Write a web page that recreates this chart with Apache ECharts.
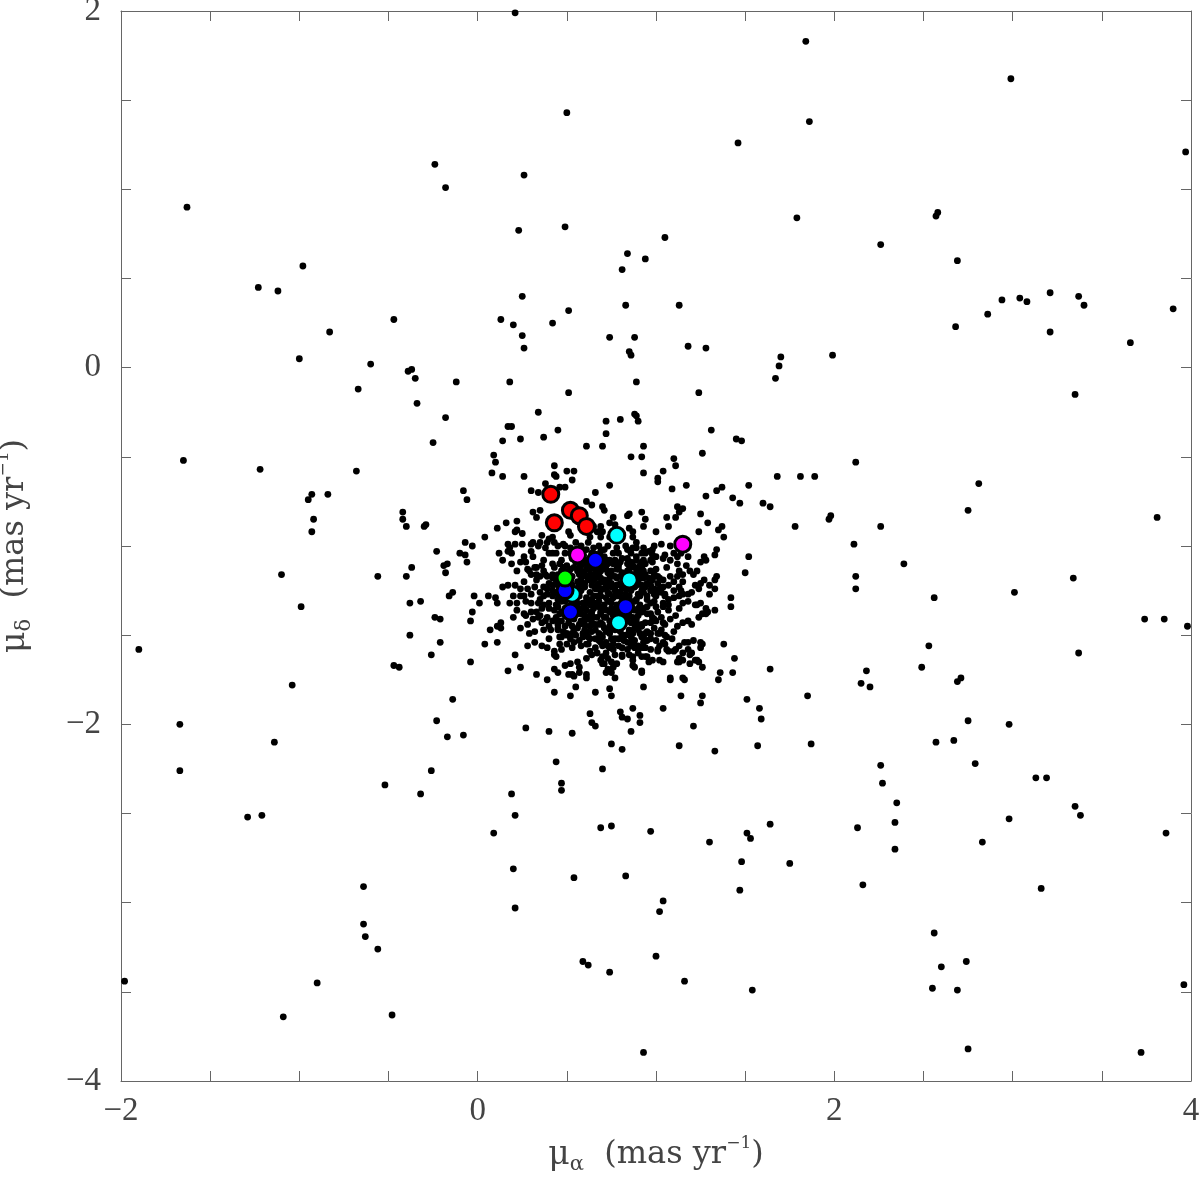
<!DOCTYPE html>
<html>
<head>
<meta charset="utf-8">
<script src="https://cdn.jsdelivr.net/npm/echarts@6/dist/echarts.min.js"></script>
<style>
html,body{margin:0;padding:0;background:#fff;}
#chart{width:1200px;height:1177px;}
</style>
</head>
<body>
<div id="chart"></div>
<script>
// Proper motions [mu_alpha, mu_delta] in mas/yr
const fieldStars = [
[0.21,1.99],[1.84,1.83],[2.99,1.62],[0.50,1.43],[1.86,1.38],[3.97,1.21],[1.46,1.26],[-0.24,1.14],[-0.18,1.01],[0.26,1.08],[-1.63,0.90],[2.58,0.87],[2.57,0.85],[1.79,0.84],[0.49,0.79],[0.23,0.77],[1.05,0.73],[0.84,0.64],[2.26,0.69],[0.94,0.61],[0.81,0.55],[2.69,0.60],[-0.98,0.57],[-1.23,0.45],[-1.12,0.43],[0.25,0.40],[3.37,0.40],[2.94,0.38],[3.04,0.39],[3.08,0.37],[3.40,0.35],[3.90,0.33],[2.86,0.30],[0.83,0.35],[1.13,0.35],[-0.47,0.27],[0.13,0.27],[0.20,0.24],[0.51,0.32],[0.42,0.25],[2.68,0.23],[3.21,0.20],[3.21,0.42],[-0.83,0.20],[0.25,0.18],[0.26,0.11],[0.74,0.17],[0.88,0.17],[1.18,0.12],[1.28,0.11],[1.70,0.06],[1.99,0.07],[3.66,0.14],[0.85,0.09],[0.86,0.07],[-1.00,0.05],[-0.60,0.02],
[-0.39,-0.02],[-0.37,-0.01],[-0.35,-0.06],[-0.67,-0.12],[-0.12,-0.08],[0.18,-0.08],[0.51,-0.14],[1.67,-0.06],[1.69,0.01],[3.35,-0.15],[-0.34,-0.20],[-0.18,-0.28],[0.34,-0.25],[-0.25,-0.42],[2.12,-0.53],[-1.65,-0.52],[-1.22,-0.57],[-0.68,-0.58],
[0.17,-0.33],[0.19,-0.33],[0.14,-0.41],[0.24,-0.40],[0.37,-0.39],[0.45,-0.35],[0.61,-0.44],[0.09,-0.49],[0.10,-0.53],[0.08,-0.59],[0.14,-0.61],[0.26,-0.61],[0.43,-0.55],[0.50,-0.58],[0.54,-0.58],[0.43,-0.60],[0.44,-0.61],[0.53,-0.63],[0.38,-0.65],[0.46,-0.67],[0.49,-0.67],[0.30,-0.69],[0.34,-0.70],[-0.08,-0.69],[-0.06,-0.74],[0.66,-0.70],[0.61,-0.75],[0.64,-0.77],[0.31,-0.81],[0.33,-0.84],[-0.30,-0.89],[-0.29,-0.88],[0.11,-0.90],[0.16,-0.87],[0.22,-0.86],[0.22,-0.91],[0.25,-0.93],[0.36,-0.94],[0.04,-0.95],[-0.07,-0.98],[-0.03,-1.00],[0.21,-0.99],[0.25,-0.99],[0.30,-0.99],[0.35,-0.98],[0.39,-0.98],[0.42,-0.95],[0.48,-0.99],[0.55,-0.98],[0.62,-0.98],[-0.10,-1.04],[-0.07,-1.05],[0.12,-1.04],[0.17,-1.03],[0.42,-1.04],[0.49,-1.04],[0.26,-1.06],
[0.89,-0.08],[1.24,-0.14],[0.88,-0.26],[0.89,-0.27],[0.72,-0.30],[0.80,-0.29],[0.90,-0.30],[1.31,-0.35],[0.72,-0.37],[1.45,-0.40],[1.48,-0.41],[0.70,-0.44],[0.93,-0.44],[1.26,-0.48],[0.86,-0.50],[0.92,-0.50],[1.10,-0.51],[1.11,-0.55],[0.93,-0.59],[1.04,-0.58],[1.01,-0.62],[1.01,-0.64],[1.68,-0.61],[0.74,-0.66],[1.17,-0.66],[1.09,-0.68],[1.37,-0.67],[1.34,-0.69],[1.28,-0.72],[1.43,-0.73],[1.47,-0.76],[1.60,-0.76],[1.64,-0.78],[0.70,-0.78],[0.71,-0.80],[1.12,-0.78],[1.15,-0.79],[1.13,-0.81],[0.85,-0.82],[0.84,-0.83],[0.92,-0.81],[0.94,-0.85],[0.76,-0.84],[1.06,-0.84],[1.11,-0.84],[1.25,-0.82],[1.29,-0.87],[0.93,-0.89],[1.07,-0.89],[1.37,-0.89],[0.74,-0.87],[0.77,-0.88],[0.85,-0.90],[0.87,-0.92],[0.87,-0.95],[1.00,-0.92],[1.24,-0.92],[1.38,-0.95],[0.74,-0.95],[0.70,-0.92],[0.83,-1.00],[0.84,-1.02],[0.89,-1.01],[0.93,-1.01],[0.98,-1.02],[1.03,-0.99],[1.05,-1.05],[1.10,-1.04],[1.34,-1.02],[1.33,-1.05],[1.52,-1.06],[1.18,-1.06],[1.27,-1.06],[0.71,-1.06],[0.76,-1.04],[0.79,-1.04],[0.89,-1.06],[0.92,-1.04],
[0.35,-0.80],[0.21,-0.92],[0.40,-0.96],[0.51,-0.92],[0.52,-0.94],[0.65,-0.89],[0.67,-0.92],[0.69,-0.89],[0.63,-0.95],[0.69,-0.95],[0.17,-0.99],[0.18,-1.01],[0.31,-0.98],[0.34,-1.00],[0.38,-1.01],[0.43,-0.98],[0.49,-1.00],[0.61,-1.02],[0.68,-1.00],[0.71,-1.02],[0.14,-1.08],[0.19,-1.04],[0.24,-1.09],[0.27,-1.09],[0.30,-1.03],[0.31,-1.06],[0.37,-1.08],[0.40,-1.04],[0.42,-1.10],[0.43,-1.12],[0.44,-1.04],[0.59,-1.10],[0.61,-1.13],[0.70,-1.07],[0.72,-1.08],[0.22,-1.14],[0.28,-1.13],[0.29,-1.14],[0.33,-1.12],[0.33,-1.16],[0.37,-1.14],[0.38,-1.16],[0.39,-1.17],[0.42,-1.16],[0.42,-1.18],[0.44,-1.19],[0.40,-1.21],[0.42,-1.22],[0.54,-1.12],[0.56,-1.14],[0.53,-1.17],[0.60,-1.16],[0.62,-1.18],[0.65,-1.19],[0.69,-1.14],[0.72,-1.13],[0.67,-1.22],[0.70,-1.20],[0.72,-1.22],[0.53,-1.22],[0.57,-1.22],[0.17,-1.22],[0.21,-1.22],[0.37,-1.23],
[1.35,-0.91],[0.89,-0.98],[0.87,-1.01],[0.99,-1.00],[0.98,-1.05],[1.00,-1.06],[0.94,-1.04],[1.12,-1.06],[0.77,-1.08],[0.81,-1.07],[0.97,-1.08],[0.98,-1.09],[0.89,-1.08],[0.92,-1.09],[0.94,-1.10],[0.85,-1.13],[0.88,-1.12],[0.90,-1.13],[0.93,-1.14],[0.94,-1.16],[0.96,-1.18],[1.01,-1.17],[1.02,-1.18],[0.76,-1.10],[0.78,-1.13],[0.75,-1.16],[0.78,-1.18],[0.80,-1.21],[0.81,-1.23],[0.92,-1.22],[0.95,-1.21],[1.04,-1.23],[1.07,-1.22],[1.13,-1.14],[1.15,-1.16],[1.19,-1.14],[1.23,-1.14],[1.13,-1.23],[1.15,-1.20],[1.22,-1.22],[1.25,-1.21],[1.30,-1.22],[1.33,-1.19],
[1.50,-1.15],[1.34,-1.17],[1.12,-1.17],[1.33,-1.24],[1.10,-1.25],[1.05,-1.27],[1.18,-1.27],[1.20,-1.26],[1.18,-1.31],[1.25,-1.32],[1.28,-1.35],[1.26,-1.38],[1.29,-1.37],[1.42,-1.29],[1.42,-1.34],[1.23,-1.33],[1.04,-1.32],[1.00,-1.28],[0.99,-1.31],[0.92,-1.25],[1.12,-1.10],[1.28,-1.08],[1.25,-1.09],[0.95,-1.34],[0.97,-1.38],[1.01,-1.37],[1.04,-1.34],[1.18,-1.42],[1.20,-1.44],[0.98,-1.42],[0.89,-1.43],[1.03,-1.47],[1.06,-1.51],[1.01,-1.49],[0.93,-1.51],[0.88,-1.53],[0.90,-1.56],[0.94,-1.57],[0.97,-1.58],[1.01,-1.58],[1.05,-1.55],[1.06,-1.58],[1.11,-1.58],[1.10,-1.59],[1.13,-1.56],[1.15,-1.60],[1.18,-1.54],[1.21,-1.53],[1.25,-1.54],[1.26,-1.55],[1.19,-1.61],[1.23,-1.64],[1.19,-1.66],[1.15,-1.64],[1.13,-1.65],[1.38,-1.55],[1.44,-1.63],[1.43,-1.71],[1.64,-1.69],[1.26,-1.68],[0.98,-1.64],[0.94,-1.62],[0.92,-1.70],[0.87,-1.67],[0.72,-1.71],[0.77,-1.74],[1.08,-1.75],[1.16,-1.75],[1.35,-1.75],[0.93,-1.79],[0.74,-1.80],[0.75,-1.84],[1.14,-1.84],[1.26,-1.84],[1.25,-1.88],[1.04,-1.91],[1.51,-1.86],[1.58,-1.91],[1.59,-1.97],[0.87,-1.91],[0.80,-1.93],[0.81,-1.96],[0.84,-1.97],[0.91,-1.95],[0.91,-1.99],[1.21,-2.01],[0.86,-2.04],[0.79,-1.52],[0.74,-1.57],[0.72,-1.54],[0.70,-1.62],[0.81,-1.61],[0.84,-1.58],[0.87,-1.62],[0.78,-1.66],[0.76,-1.68],[0.71,-1.66],
[0.95,-1.28],[1.01,-1.26],[1.05,-1.28],[1.10,-1.29],[1.15,-1.27],[1.22,-1.33],[1.28,-1.38],[0.75,-1.32],[0.76,-1.36],[0.88,-1.31],[0.91,-1.33],[0.93,-1.35],[0.98,-1.40],[0.99,-1.41],[0.87,-1.40],[0.89,-1.41],[0.87,-1.43],[0.89,-1.45],[1.04,-1.43],[0.95,-1.48],[0.97,-1.49],[1.02,-1.49],[0.75,-1.52],[0.76,-1.55],[0.81,-1.52],[0.84,-1.54],[0.87,-1.54],[0.92,-1.51],[0.93,-1.54],[0.95,-1.53],[0.91,-1.57],[0.88,-1.57],[0.90,-1.60],[1.01,-1.59],[1.04,-1.54],[1.16,-1.54],[1.25,-1.57],[1.07,-1.59],[1.18,-1.58],[1.20,-1.60],[0.76,-1.58],[0.77,-1.61],[0.81,-1.62],[0.85,-1.61],[0.87,-1.64],[0.92,-1.62],[0.95,-1.62],[0.96,-1.65],[1.02,-1.64],[1.04,-1.65],[1.12,-1.65],[1.13,-1.63],[1.22,-1.64],[1.24,-1.65],[0.88,-1.68],[0.92,-1.71],[0.75,-1.65],[0.75,-1.71],[1.36,-1.71],[1.08,-1.74],[1.15,-1.74],
[-0.17,-1.10],[-0.18,-1.15],[-0.06,-1.09],[0.19,-1.10],[0.14,-1.23],[-0.14,-1.26],[-0.16,-1.28],[-0.02,-1.28],[0.01,-1.32],[0.06,-1.28],[0.10,-1.29],[0.11,-1.32],[-0.03,-1.37],[0.22,-1.32],[0.24,-1.28],[0.26,-1.28],[-0.32,-1.31],[-0.24,-1.40],[-0.21,-1.41],[-0.04,-1.42],[0.07,-1.47],[0.11,-1.45],[0.13,-1.43],[0.13,-1.46],[0.24,-1.46],[0.27,-1.39],[0.30,-1.32],[0.34,-1.32],[0.33,-1.37],[0.34,-1.40],[0.38,-1.42],[0.40,-1.45],[0.45,-1.42],[-0.21,-1.54],[-0.26,-1.61],[0.04,-1.55],[0.11,-1.54],[0.28,-1.56],[0.21,-1.61],[-0.04,-1.65],[0.24,-1.68],[0.17,-1.70],[0.33,-1.72],[0.39,-1.57],[0.43,-1.59],[0.43,-1.61],[0.47,-1.58],[0.50,-1.55],[0.46,-1.51],[0.50,-1.50],[0.53,-1.49],[0.39,-1.75],[0.43,-1.69],[0.45,-1.71],[0.49,-1.67],[0.52,-1.66],[0.51,-1.72],[0.54,-1.73],[0.43,-1.82],[0.52,-1.84],[0.55,-1.79],[0.61,-1.72],[0.61,-1.74],[0.61,-1.63],[0.64,-1.61],[0.61,-1.55],[0.59,-1.49],[-0.14,-1.86],[-0.23,-1.98],[-0.17,-2.07],[-0.08,-2.06],[0.27,-2.02],[0.40,-2.04],[0.53,-2.05],[0.63,-1.94],[0.64,-1.99],[0.66,-2.01],[0.66,-1.82],
[0.35,-1.30],[0.37,-1.33],[0.39,-1.27],[0.42,-1.28],[0.44,-1.26],[0.26,-1.38],[0.30,-1.37],[0.31,-1.41],[0.39,-1.40],[0.42,-1.42],[0.49,-1.45],[0.50,-1.49],[0.57,-1.44],[0.60,-1.47],[0.61,-1.50],[0.58,-1.38],[0.62,-1.41],[0.65,-1.40],[0.32,-1.54],[0.46,-1.55],[0.62,-1.55],[0.69,-1.54],[0.70,-1.56],[0.63,-1.59],[0.67,-1.60],[0.72,-1.60],[0.73,-1.63],[0.44,-1.62],[0.56,-1.65],[0.57,-1.68],[0.69,-1.64],[0.70,-1.66],[0.53,-1.72],[0.57,-1.71],[0.73,-1.69],
[0.56,-1.24],[0.60,-1.23],[0.63,-1.26],[0.66,-1.24],[0.70,-1.24],[0.73,-1.26],[0.57,-1.28],[0.61,-1.29],[0.65,-1.28],[0.69,-1.28],[0.72,-1.29],[0.59,-1.32],[0.63,-1.33],[0.67,-1.32],[0.71,-1.33],[0.74,-1.31],[0.57,-1.35],[0.61,-1.36],[0.65,-1.35],[0.69,-1.37],[0.72,-1.36],[0.63,-1.39],[0.67,-1.40],[0.71,-1.40],[0.66,-1.44],[0.70,-1.44],[0.74,-1.45],[0.64,-1.48],[0.68,-1.49],[0.72,-1.48],[0.66,-1.52],[0.70,-1.51],[0.56,-1.32],[0.59,-1.51],
[0.75,-1.23],[0.79,-1.26],[0.83,-1.24],[0.87,-1.23],[0.90,-1.27],[0.77,-1.28],[0.81,-1.29],[0.85,-1.28],[0.89,-1.30],[0.78,-1.33],[0.80,-1.36],[0.88,-1.36],[0.78,-1.39],[0.83,-1.40],[0.85,-1.47],[0.80,-1.48],[0.76,-1.45],[0.83,-1.50],[0.87,-1.49],[0.91,-1.49],[0.79,-1.56],
[0.63,-1.07],[0.61,-1.08],[0.71,-1.10],[0.66,-1.12],[0.63,-1.16],[0.69,-1.18],[0.74,-1.18],[0.58,-1.19],[0.72,-1.24],
[0.39,-1.24],[0.35,-1.26],[0.32,-1.23],[0.28,-1.24],[0.47,-1.29],[0.49,-1.31],[0.44,-1.33],[0.47,-1.37],[0.40,-1.35],[0.45,-1.47],[0.37,-1.47],[0.29,-1.49],[0.54,-1.54],
[0.83,-1.16],[0.87,-1.19],[0.91,-1.18],[0.89,-1.22],[0.98,-1.19],[0.99,-1.24],[0.84,-1.10],[0.80,-1.09],
[0.46,-1.10],[0.50,-1.11],[0.55,-1.09],[0.58,-1.11],[0.64,-1.10],[0.68,-1.11],[0.73,-1.10],[0.79,-1.11],[0.86,-1.09],[0.91,-1.11],
[0.47,-1.14],[0.51,-1.15],[0.58,-1.14],[0.63,-1.13],[0.66,-1.15],[0.75,-1.14],[0.81,-1.15],[0.84,-1.14],[0.89,-1.15],[0.97,-1.14],
[0.46,-1.18],[0.50,-1.19],[0.59,-1.17],[0.66,-1.18],[0.71,-1.19],[0.77,-1.17],[0.82,-1.18],[0.88,-1.19],[0.93,-1.18],[0.99,-1.17],
[0.45,-1.22],[0.49,-1.21],[0.60,-1.21],[0.64,-1.22],[0.75,-1.21],[0.78,-1.22],[0.84,-1.21],[0.88,-1.23],[0.97,-1.22],[1.01,-1.21],
[0.47,-1.26],[0.52,-1.25],[0.57,-1.26],[0.69,-1.25],[0.77,-1.25],[0.80,-1.26],[0.86,-1.25],[0.93,-1.26],[0.97,-1.25],[1.03,-1.26],
[0.45,-1.30],[0.50,-1.29],[0.55,-1.30],[0.64,-1.30],[0.68,-1.31],[0.76,-1.29],[0.83,-1.30],[0.86,-1.31],[0.95,-1.30],[1.07,-1.30],
[0.45,-1.34],[0.49,-1.35],[0.55,-1.34],[0.60,-1.33],[0.68,-1.34],[0.75,-1.35],[0.80,-1.34],[0.85,-1.33],[0.90,-1.35],[1.00,-1.34],
[0.46,-1.38],[0.51,-1.37],[0.56,-1.38],[0.60,-1.39],[0.69,-1.38],[0.74,-1.37],[0.79,-1.38],[0.85,-1.39],[0.92,-1.37],[0.95,-1.38],
[0.47,-1.42],[0.54,-1.41],[0.58,-1.42],[0.69,-1.43],[0.74,-1.42],[0.79,-1.41],[0.84,-1.42],[0.94,-1.43],[1.00,-1.42],[1.08,-1.41],
[0.45,-1.46],[0.53,-1.45],[0.56,-1.46],[0.63,-1.45],[0.71,-1.46],[0.77,-1.47],[0.88,-1.46],[0.92,-1.45],[0.99,-1.46],[1.12,-1.45],
[0.55,-1.50],[0.62,-1.51],[0.69,-1.50],[0.74,-1.49],[0.81,-1.50],[0.94,-1.49],[1.05,-1.50],
[0.32,-1.12],[0.36,-1.11],[0.48,-1.12],[0.52,-1.13],[0.57,-1.12],[0.62,-1.11],[0.70,-1.12],[0.79,-1.13],[0.87,-1.11],[0.92,-1.12],[1.00,-1.13],[1.06,-1.12],[1.17,-1.11],
[0.30,-1.16],[0.35,-1.17],[0.45,-1.16],[0.49,-1.15],[0.57,-1.16],[0.64,-1.17],[0.68,-1.16],[0.73,-1.15],[0.80,-1.17],[0.86,-1.16],[0.91,-1.15],[0.99,-1.16],[1.08,-1.17],[1.21,-1.16],
[0.26,-1.20],[0.33,-1.19],[0.47,-1.20],[0.52,-1.21],[0.56,-1.20],[0.62,-1.19],[0.68,-1.21],[0.73,-1.20],[0.82,-1.19],[0.86,-1.21],[0.90,-1.20],[1.04,-1.19],[1.10,-1.20],[1.27,-1.19],
[0.24,-1.24],[0.42,-1.25],[0.46,-1.24],[0.53,-1.23],[0.58,-1.25],[0.68,-1.24],[0.77,-1.23],[0.85,-1.24],[0.94,-1.23],[1.02,-1.24],[1.14,-1.25],[1.24,-1.24],
[0.20,-1.28],[0.30,-1.27],[0.37,-1.28],[0.45,-1.27],[0.50,-1.28],[0.54,-1.27],[0.67,-1.28],[0.74,-1.27],[0.79,-1.28],[0.83,-1.27],[0.91,-1.28],[0.99,-1.27],[1.13,-1.28],[1.30,-1.27],
[0.18,-1.32],[0.27,-1.31],[0.40,-1.32],[0.47,-1.31],[0.53,-1.32],[0.61,-1.31],[0.66,-1.32],[0.73,-1.31],[0.81,-1.32],[0.84,-1.31],[0.97,-1.32],[1.07,-1.33],[1.15,-1.32],
[0.22,-1.36],[0.36,-1.35],[0.43,-1.36],[0.50,-1.35],[0.54,-1.36],[0.59,-1.35],[0.64,-1.37],[0.71,-1.35],[0.78,-1.36],[0.83,-1.35],[0.90,-1.36],[1.07,-1.36],[1.13,-1.35],[1.33,-1.36],
[0.20,-1.40],[0.35,-1.39],[0.44,-1.40],[0.49,-1.39],[0.53,-1.40],[0.60,-1.41],[0.64,-1.39],[0.72,-1.40],[0.76,-1.39],[0.81,-1.40],[0.90,-1.39],[1.03,-1.40],[1.11,-1.39],[1.24,-1.40],
[0.28,-1.44],[0.36,-1.43],[0.45,-1.44],[0.51,-1.43],[0.60,-1.44],[0.64,-1.43],[0.68,-1.44],[0.76,-1.43],[0.82,-1.44],[0.86,-1.43],[0.92,-1.44],[0.97,-1.43],[1.05,-1.44],[1.15,-1.43],
[0.32,-1.48],[0.41,-1.47],[0.48,-1.48],[0.54,-1.47],[0.61,-1.48],[0.66,-1.47],[0.74,-1.48],[0.79,-1.47],[0.85,-1.48],[0.90,-1.47],[1.10,-1.48],
[0.40,-1.52],[0.47,-1.51],[0.52,-1.52],[0.57,-1.53],[0.63,-1.52],[0.68,-1.53],[0.77,-1.52],[0.82,-1.53],[0.86,-1.51],[0.97,-1.52],[1.00,-1.53],[1.09,-1.52],
[0.36,-1.56],[0.53,-1.57],[0.58,-1.56],[0.66,-1.57],[0.73,-1.56],[0.81,-1.57],[0.86,-1.56],[0.93,-1.57],[1.02,-1.56],
[0.47,-1.08],[0.53,-1.07],[0.57,-1.08],[0.66,-1.07],[0.74,-1.08],[0.84,-1.07],[0.93,-1.08],[1.04,-1.07],[1.08,-1.08],
[0.52,-1.04],[0.57,-1.03],[0.64,-1.04],[0.69,-1.03],[0.86,-1.04],[0.96,-1.03],[1.14,-1.04],
[0.45,-1.00],[0.52,-1.01],[0.58,-1.00],[0.65,-1.01],[0.73,-1.00],[0.78,-1.01],[1.08,-1.00],
[-0.93,-0.71],[-0.95,-0.74],[-0.84,-0.71],[-0.92,-0.85],[-0.93,-0.92],[-0.42,-0.81],[-0.42,-0.85],[-0.40,-0.89],[-0.56,-1.17],[-1.10,-1.16],[-0.99,-1.34],[-0.40,-1.17],[-0.37,-1.12],[-0.38,-1.32],[-0.23,-1.03],[-0.19,-1.11],[-1.90,-1.58],[-0.47,-1.67],[-0.44,-1.68],[-0.38,-1.50],[-1.04,-1.78],[-1.67,-2.00],[-1.14,-2.10],[-1.67,-2.26],[-0.52,-2.34],[-0.26,-2.26],[-0.32,-2.39],
[-1.29,-2.52],[-1.21,-2.51],[-0.64,-2.91],[-0.64,-3.12],[-0.63,-3.19],[-0.56,-3.26],[-1.98,-3.44],[-0.90,-3.45],[-1.09,-3.64],[-0.48,-3.63],[0.09,-2.61],[0.19,-2.39],[0.21,-2.51],[0.20,-2.81],[0.21,-3.03],[0.54,-2.86],[0.59,-3.33],[0.62,-3.35],[0.74,-3.39],[0.93,-3.84],[0.83,-2.85],[0.69,-2.58],[0.75,-2.57],[0.97,-2.60],[1.04,-2.99],[1.02,-3.05],[1.00,-3.30],[1.16,-3.44],[1.54,-3.49],[1.30,-2.66],[1.47,-2.93],[1.48,-2.77],[1.51,-2.61],[1.53,-2.64],[1.64,-2.56],[1.75,-2.78],[2.16,-2.90],[2.13,-2.58],[2.56,-3.17],[2.60,-3.36],[2.55,-3.48],[2.69,-3.49],[2.74,-3.33],[2.75,-3.82],[2.35,-2.44],[2.34,-2.55],[2.34,-2.70],[2.83,-2.66],[2.98,-2.53],[3.13,-2.30],[3.19,-2.30],[3.35,-2.46],[3.38,-2.51],[3.16,-2.92],[3.72,-3.84],[3.86,-2.61],[3.96,-3.46],
[1.81,-0.61],[1.89,-0.61],[1.52,-0.66],[1.78,-0.89],[1.97,-0.85],[1.98,-0.83],[2.11,-0.99],[2.26,-0.89],[2.81,-0.65],[2.75,-0.80],[3.81,-0.84],[2.39,-1.10],[2.12,-1.17],[2.12,-1.24],[2.56,-1.29],[3.01,-1.26],[3.34,-1.18],[3.74,-1.41],[3.85,-1.41],[3.98,-1.45],[2.49,-1.68],[2.53,-1.56],[2.18,-1.70],[2.20,-1.79],[2.15,-1.77],[1.85,-1.84],[1.87,-2.11],[1.57,-2.12],[2.69,-1.76],[2.71,-1.74],[3.37,-1.60],[2.67,-2.09],[2.75,-1.98],[2.57,-2.10],[2.98,-2.00],[2.79,-2.22],[2.26,-2.23],[2.27,-2.33],
[0.44,-2.21],[0.47,-2.33],[0.47,-2.37],[0.81,-2.14],[0.75,-2.11],[1.13,-2.12],[1.33,-2.15],[0.70,-2.25]
];
const redStars = [[0.41,-0.71],[0.43,-0.87],[0.52,-0.80],[0.57,-0.83],[0.61,-0.89]];
const cyanStars = [[0.78,-0.94],[0.85,-1.19],[0.79,-1.43],[0.53,-1.27]];
const magentaStars = [[0.56,-1.05],[1.15,-0.99]];
const blueStars = [[0.66,-1.08],[0.49,-1.25],[0.52,-1.37],[0.83,-1.34]];
const greenStars = [[0.49,-1.18]];

const xTicks = {min: -2, max: 4, step: 0.5, labelEvery: 2};
const yTicks = {min: -4, max: 2, step: 0.5, labelEvery: 2};

const FONT = '"Liberation Serif", "DejaVu Serif", serif';
const TFONT = '"DejaVu Serif", "Liberation Serif", serif';
const AX = '#666';

function fmt(every){
  return function(v){
    const r = Math.abs(v / every - Math.round(v / every));
    if (r > 1e-6) return '';
    return String(Math.round(v)).replace('-', '\u2212');
  };
}

const richName = {
  g: {fontFamily: TFONT, fontSize: 33, lineHeight: 40, color: '#444'},
  t: {fontFamily: TFONT, fontSize: 32, lineHeight: 40, color: '#444'},
  sub: {fontFamily: TFONT, fontSize: 21, lineHeight: 14, verticalAlign: 'bottom', color: '#444'},
  sup: {fontFamily: TFONT, fontSize: 17, lineHeight: 20, verticalAlign: 'top', color: '#444'}
};

function axisCommon(t, show){
  return {
    type: 'value', min: t.min, max: t.max, interval: t.step,
    axisLine: {show: true, onZero: false, lineStyle: {color: AX, width: 1}},
    axisTick: {show: true, inside: true, length: 10, lineStyle: {color: AX, width: 1}},
    splitLine: {show: false},
    axisLabel: show ? {show: true, formatter: fmt(t.labelEvery), fontFamily: FONT, fontSize: 33, color: '#444'} : {show: false}
  };
}

const chart = echarts.init(document.getElementById('chart'), null, {renderer: 'canvas'});
const xb = axisCommon(xTicks, true);
xb.position = 'bottom';
xb.axisLabel.margin = 14;
xb.name = '{g|\u03bc}{sub|\u03b1}{t|  (mas yr}{sup|\u22121}{t|)}';
xb.nameLocation = 'middle';
xb.nameGap = 54;
xb.nameTextStyle = {rich: richName};
const xt = axisCommon(xTicks, false); xt.position = 'top';
const yl = axisCommon(yTicks, true);
yl.position = 'left';
yl.axisLabel.margin = 20;
yl.name = '{g|\u03bc}{sub|\u03b4}{t|  (mas yr}{sup|\u22121}{t|)}';
yl.nameLocation = 'middle';
yl.nameGap = 86;
yl.nameTextStyle = {rich: richName};
const yr = axisCommon(yTicks, false); yr.position = 'right';

function colored(data, color){
  return {type: 'scatter', data: data, symbol: 'circle', symbolSize: 16,
    itemStyle: {color: color, borderColor: '#000', borderWidth: 3, opacity: 1},
    xAxisIndex: 0, yAxisIndex: 0, silent: true};
}

chart.setOption({
  animation: false,
  backgroundColor: '#fff',
  grid: {left: 121, top: 11, right: 9, bottom: 96, containLabel: false, outerBoundsMode: 'none'},
  xAxis: [xb, xt],
  yAxis: [yl, yr],
  series: [
    {type: 'scatter', data: fieldStars, symbol: 'circle', symbolSize: 6.8,
     itemStyle: {color: '#000', opacity: 1}, xAxisIndex: 0, yAxisIndex: 0, silent: true},
    colored(redStars, '#ff0000'),
    colored(cyanStars, '#00ffff'),
    colored(magentaStars, '#ff00ff'),
    colored(blueStars, '#0000ff'),
    colored(greenStars, '#00ff00')
  ]
});
</script>
</body>
</html>
